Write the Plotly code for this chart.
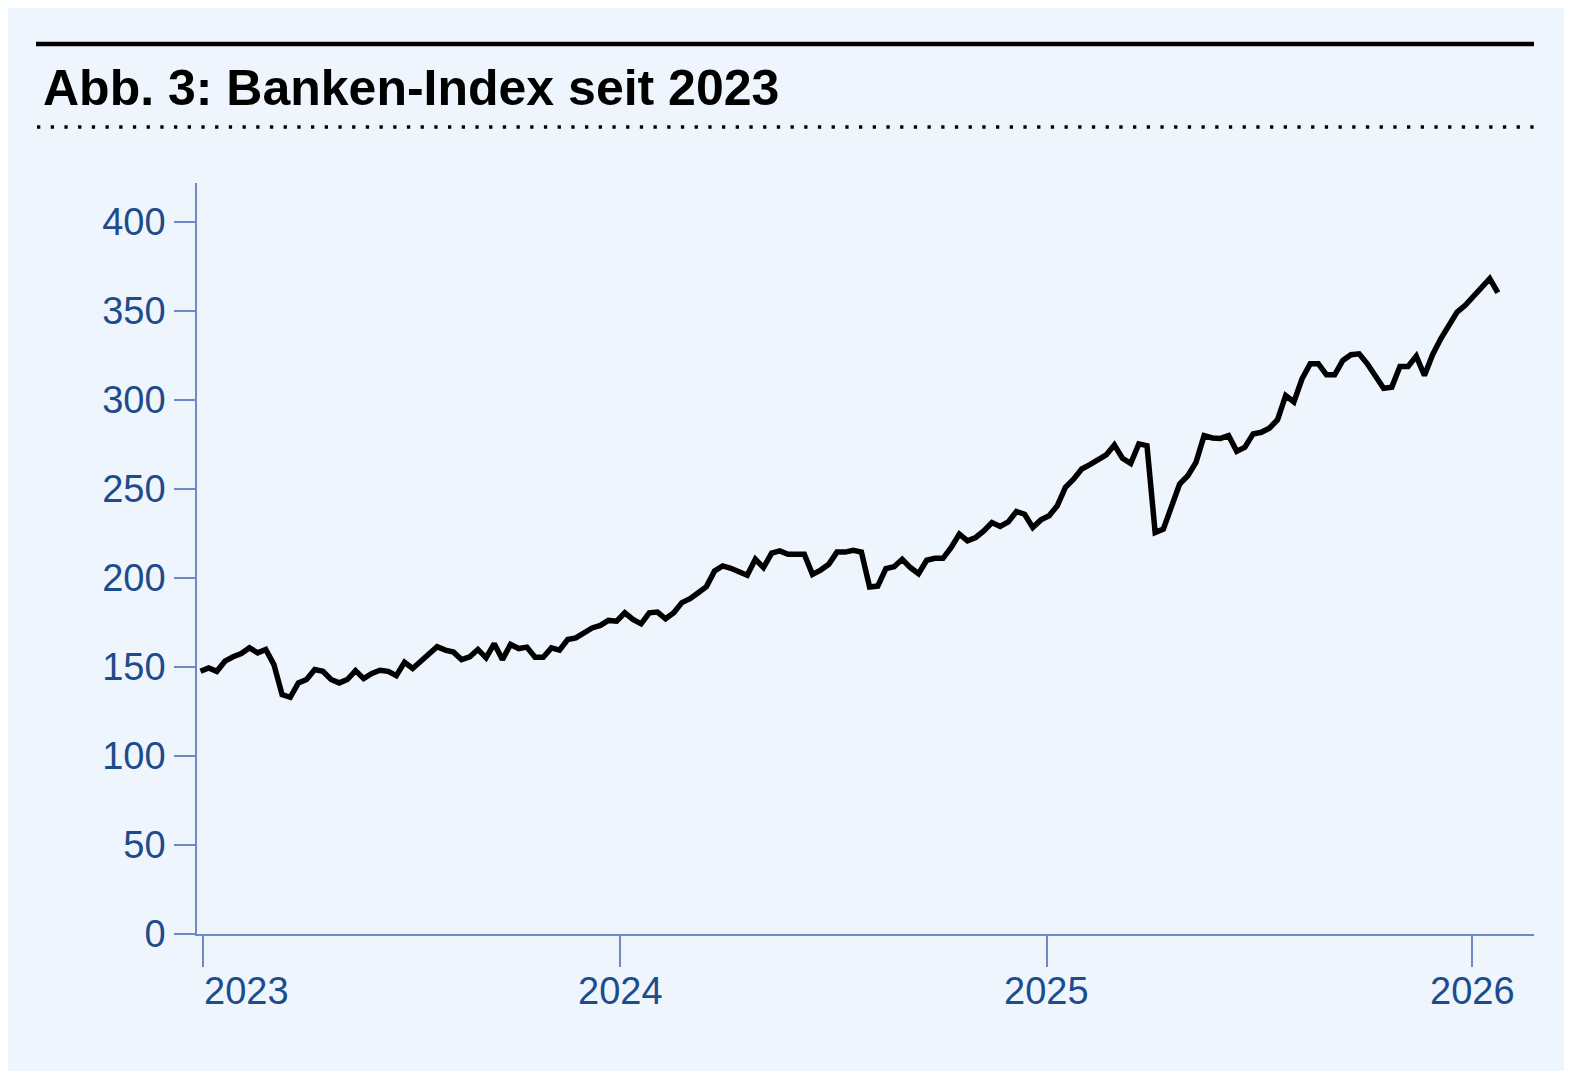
import pandas as pd
import plotly.graph_objects as go

# ---- data -------------------------------------------------------------
start_date = "2023-01-06"
index_values = [
    147.6, 149.5, 147.6, 153.3, 155.8, 157.6, 160.8, 158.0, 159.9, 151.4,
    134.5, 133.0, 141.1, 143.0, 148.6, 147.6, 143.0, 141.1, 143.0, 148.0,
    143.5, 146.4, 148.2, 147.6, 145.2, 152.7, 149.2, 153.3, 157.0, 161.4,
    159.5, 158.4, 154.2, 155.8,
    159.9, 155.2, 163.1, 154.2, 162.7, 160.4, 161.2, 155.5, 155.5, 160.8,
    159.5, 165.5, 166.4, 169.2, 172.0, 173.4, 176.2, 175.8, 180.5, 176.8,
    174.3, 180.5, 180.9, 177.1, 180.5, 186.2, 188.4, 191.8, 195.2, 204.0,
    206.8, 205.5, 203.6, 201.6,
    210.6, 205.9, 214.0, 215.3, 213.4, 213.4, 213.4, 202.1, 204.5, 207.8,
    214.6, 214.6, 215.6, 214.6, 195.0, 195.5, 205.3, 206.4, 210.6, 205.9,
    202.5, 210.0, 211.1, 211.1, 217.2, 224.7, 220.9, 222.8, 226.5, 231.2,
    229.0, 231.6, 237.4, 235.9,
    228.4, 232.7, 235.0, 240.6, 251.0, 255.6, 261.3, 263.7, 266.9, 269.2,
    274.8, 267.3, 264.4, 275.4, 274.4, 225.6, 227.5, 240.6, 252.8, 257.5,
    265.0, 280.0, 278.7, 278.5, 280.0, 271.2, 273.5, 281.0, 281.9, 284.2,
    289.0,
    302.6, 299.0, 312.0, 320.4, 320.4, 314.2, 314.2, 322.3, 325.5, 326.0,
    320.4, 313.8, 306.7, 307.3, 318.9, 318.9, 324.7, 313.8, 325.5, 334.5,
    341.7, 349.5, 353.3, 358.0, 362.7, 368.3, 360.4,
]
dates = pd.date_range(start_date, periods=len(index_values), freq="7D")

y_tick_values = [0, 50, 100, 150, 200, 250, 300, 350, 400]
y_tick_labels = ["0", "50", "100", "150", "200", "250", "300", "350", "400"]
x_tick_dates = ["2023-01-08", "2024-01-01", "2025-01-01", "2026-01-01"]
x_tick_labels = ["2023", "2024", "2025", "2026"]
x_label_anchor = ["left", "center", "center", "center"]

title_text = "Abb. 3: Banken-Index seit 2023"

# ---- style --------------------------------------------------------------
OFF = 8                                # page body margin of the html
W, H = 1572 - OFF, 1078 - OFF
# target positions in screenshot pixels
L, R, T, B = 197, 1534, 183, 934
BG = "#eff5fc"
AXIS = "#7088c8"
LABEL = "#1d4b8c"
FONT = "Liberation Sans"

def px_x(p):
    return (p - L) / (R - L)

def px_y(p):
    return (B - p) / (B - T)

fig = go.Figure()
fig.add_trace(go.Scatter(
    x=dates, y=index_values, mode="lines",
    line=dict(color="#000000", width=5.5),
    hoverinfo="skip", showlegend=False,
))

shapes = [
    # light-blue card
    dict(type="rect", xref="paper", yref="paper",
         x0=px_x(6), x1=px_x(1565), y0=px_y(1071), y1=px_y(6),
         fillcolor=BG, line=dict(width=0), layer="below"),
    # top rule
    dict(type="line", xref="paper", yref="paper",
         x0=px_x(36), x1=px_x(1534), y0=px_y(44), y1=px_y(44),
         line=dict(color="#000000", width=4.5)),
    # dotted rule
    dict(type="line", xref="paper", yref="paper",
         x0=px_x(37), x1=px_x(1534), y0=px_y(127), y1=px_y(127),
         line=dict(color="#000000", width=3.3, dash="3.3px,10.4px")),
]

annotations = [
    dict(text=f"<b>{title_text}</b>", xref="paper", yref="paper",
         x=px_x(41), y=px_y(88), xanchor="left", yanchor="middle",
         showarrow=False, font=dict(family=FONT, size=50, color="#000000")),
]
for d, lab, anc in zip(x_tick_dates, x_tick_labels, x_label_anchor):
    annotations.append(dict(
        text=lab, x=d, xref="x", yref="paper", y=px_y(991),
        xanchor=anc, yanchor="middle", showarrow=False,
        xshift=(-1 if anc == "left" else 0),
        font=dict(family=FONT, size=38, color=LABEL)))

fig.update_layout(
    width=W, height=H,
    margin=dict(l=L - OFF, r=W - (R - OFF), t=T - OFF, b=H - (B - OFF), pad=0),
    paper_bgcolor="#ffffff",
    plot_bgcolor="rgba(0,0,0,0)",
    shapes=shapes,
    annotations=annotations,
    xaxis=dict(
        type="date",
        range=["2023-01-03", "2026-02-23"],
        tickvals=x_tick_dates, ticktext=x_tick_labels,
        showticklabels=False,
        ticks="outside", ticklen=31, tickwidth=1.5, tickcolor=AXIS,
        showline=True, linecolor=AXIS, linewidth=2.2,
        showgrid=False, zeroline=False,
    ),
    yaxis=dict(
        range=[0, 422],
        tickvals=y_tick_values, ticktext=y_tick_labels,
        ticks="outside", ticklen=21, tickwidth=2, tickcolor=AXIS,
        showline=True, linecolor=AXIS, linewidth=1.5,
        showgrid=False, zeroline=False,
        tickfont=dict(family=FONT, size=38, color=LABEL),
        ticklabelstandoff=1,
    ),
)

fig.write_html("out.html")
